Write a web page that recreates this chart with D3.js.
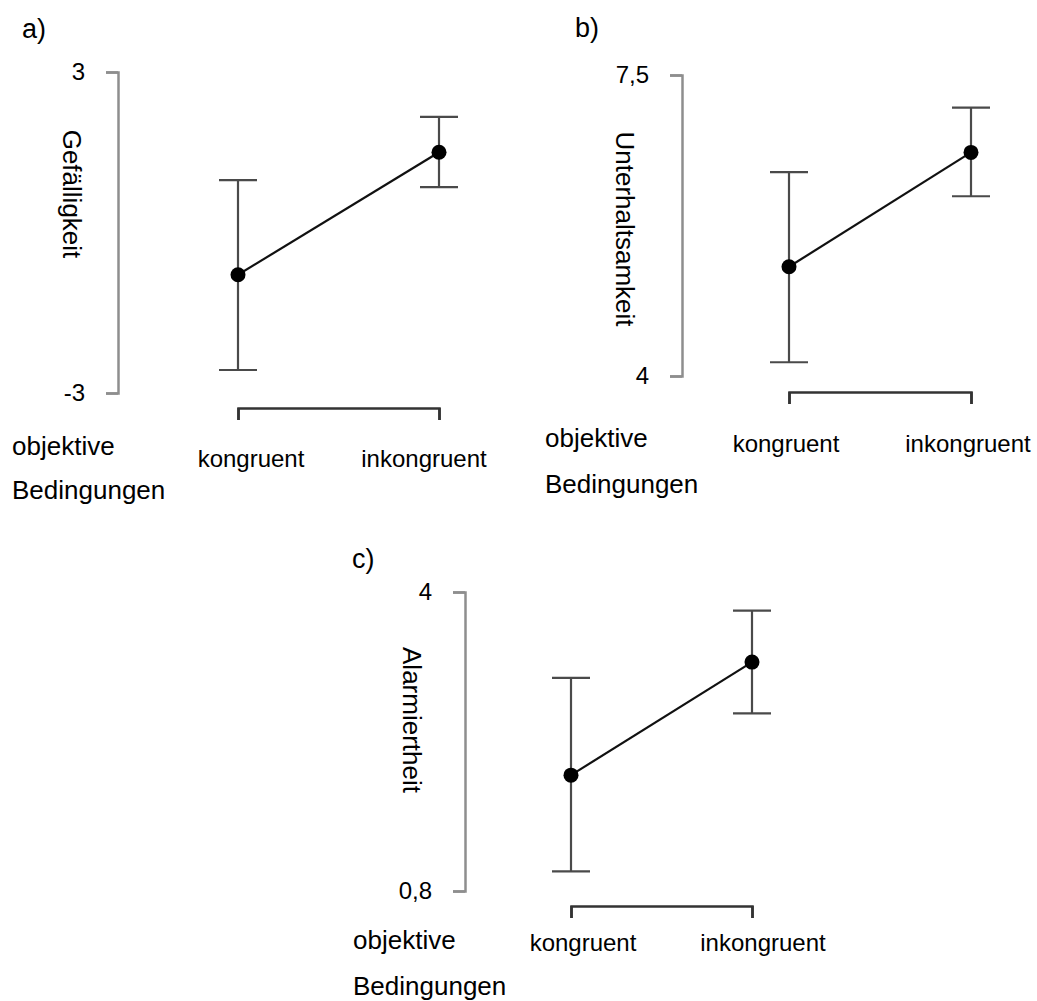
<!DOCTYPE html>
<html>
<head>
<meta charset="utf-8">
<script src="https://cdn.jsdelivr.net/npm/d3@7"></script>
<style>
  html, body { margin: 0; padding: 0; background: #fff; }
  svg { display: block; font-family: Arial, "Liberation Sans", sans-serif; }
</style>
</head>
<body>
<svg id="chart" width="1037" height="1001"></svg>
<script>
// ---- data ----
const panelLetters = ["a)", "b)", "c)"];
const conditions = ["kongruent", "inkongruent"];
const yTitles = ["Gefälligkeit", "Unterhaltsamkeit", "Alarmiertheit"];
const xTitleLines = ["objektive", "Bedingungen"];
const yDomains = [[-3, 3], [4, 7.5], [0.8, 4]];
const tickLabels = [["-3", "3"], ["4", "7,5"], ["0,8", "4"]];
const means = [[-0.79, 1.50], [5.27, 6.60], [2.04, 3.25]];
const upper = [[0.98, 2.16], [6.37, 7.12], [3.08, 3.80]];
const lower = [[-2.57, 0.85], [4.16, 6.09], [1.01, 2.70]];

// ---- layout (pixel positions per panel) ----
const layout = [
  { axisX: 118, yTop: 72, yBot: 393, xRange: [238, 439], bracketY: 408,
    catX: [251, 424], catY: 467, titleX: 12, titleY: [455, 499],
    letterX: 22, letterY: 38, yTitleX: 72, yTitleY: 194 },
  { axisX: 682, yTop: 75, yBot: 376, xRange: [789, 971], bracketY: 392,
    catX: [786, 968], catY: 452, titleX: 545, titleY: [447, 493],
    letterX: 575, letterY: 37, yTitleX: 625, yTitleY: 229 },
  { axisX: 465, yTop: 592, yBot: 891, xRange: [571, 752], bracketY: 906,
    catX: [583, 763], catY: 951, titleX: 353, titleY: [949, 995],
    letterX: 352, letterY: 568, yTitleX: 412, yTitleY: 720 }
];

const svg = d3.select("#chart");

panelLetters.forEach((letter, i) => {
  const L = layout[i];
  const g = svg.append("g");

  const y = d3.scaleLinear().domain(yDomains[i]).range([L.yBot, L.yTop]);
  const x = d3.scalePoint().domain(conditions).range(L.xRange);

  // y axis bracket
  const yAxis = d3.axisLeft(y)
    .tickValues(yDomains[i])
    .tickFormat((d, k) => tickLabels[i][k])
    .tickSize(12)
    .tickPadding(21);
  const ya = g.append("g").attr("transform", `translate(${L.axisX},0)`).call(yAxis);
  ya.select(".domain").attr("stroke", "#8e8e8e").attr("stroke-width", 2.5);
  ya.selectAll(".tick line").attr("stroke", "#8e8e8e").attr("stroke-width", 2.5);
  ya.selectAll(".tick text").attr("fill", "#000").style("font-size", "24px")
    .style("font-family", "Arial, 'Liberation Sans', sans-serif");

  // x axis bracket
  const xAxis = d3.axisBottom(x).tickSize(12).tickSizeOuter(12).tickFormat("");
  const xa = g.append("g").attr("transform", `translate(0,${L.bracketY})`).call(xAxis);
  xa.select(".domain").attr("stroke", "#333").attr("stroke-width", 2.5);
  xa.selectAll(".tick line").attr("stroke", "#333").attr("stroke-width", 2.5);

  // category labels
  g.selectAll("text.cat").data(conditions).enter().append("text")
    .attr("class", "cat")
    .attr("x", (d, k) => L.catX[k])
    .attr("y", L.catY)
    .attr("text-anchor", "middle")
    .style("font-size", "24px")
    .text(d => d);

  // x title
  xTitleLines.forEach((t, k) => {
    g.append("text").attr("x", L.titleX).attr("y", L.titleY[k])
      .style("font-size", "26px").text(t);
  });

  // panel letter
  g.append("text").attr("x", L.letterX).attr("y", L.letterY)
    .style("font-size", "27px").text(letter);

  // y title (rotated)
  g.append("text")
    .attr("transform", `translate(${L.yTitleX},${L.yTitleY}) rotate(90)`)
    .attr("text-anchor", "middle")
    .attr("dominant-baseline", "central")
    .style("font-size", "26px")
    .text(yTitles[i]);

  // error bars
  const rows = conditions.map((c, k) => ({ c, m: means[i][k], lo: lower[i][k], hi: upper[i][k] }));
  const capW = 19;
  const eb = g.append("g").attr("stroke", "#4a4a4a").attr("stroke-width", 2.2);
  eb.selectAll("line.v").data(rows).enter().append("line")
    .attr("x1", d => x(d.c)).attr("x2", d => x(d.c))
    .attr("y1", d => y(d.lo)).attr("y2", d => y(d.hi));
  eb.selectAll("line.t").data(rows).enter().append("line")
    .attr("x1", d => x(d.c) - capW).attr("x2", d => x(d.c) + capW)
    .attr("y1", d => y(d.hi)).attr("y2", d => y(d.hi));
  eb.selectAll("line.b").data(rows).enter().append("line")
    .attr("x1", d => x(d.c) - capW).attr("x2", d => x(d.c) + capW)
    .attr("y1", d => y(d.lo)).attr("y2", d => y(d.lo));

  // connecting line
  g.append("path").datum(rows)
    .attr("fill", "none").attr("stroke", "#111").attr("stroke-width", 2.2)
    .attr("d", d3.line().x(d => x(d.c)).y(d => y(d.m)));

  // points
  g.selectAll("circle").data(rows).enter().append("circle")
    .attr("cx", d => x(d.c)).attr("cy", d => y(d.m)).attr("r", 7.5)
    .attr("fill", "#000");
});
</script>
</body>
</html>
